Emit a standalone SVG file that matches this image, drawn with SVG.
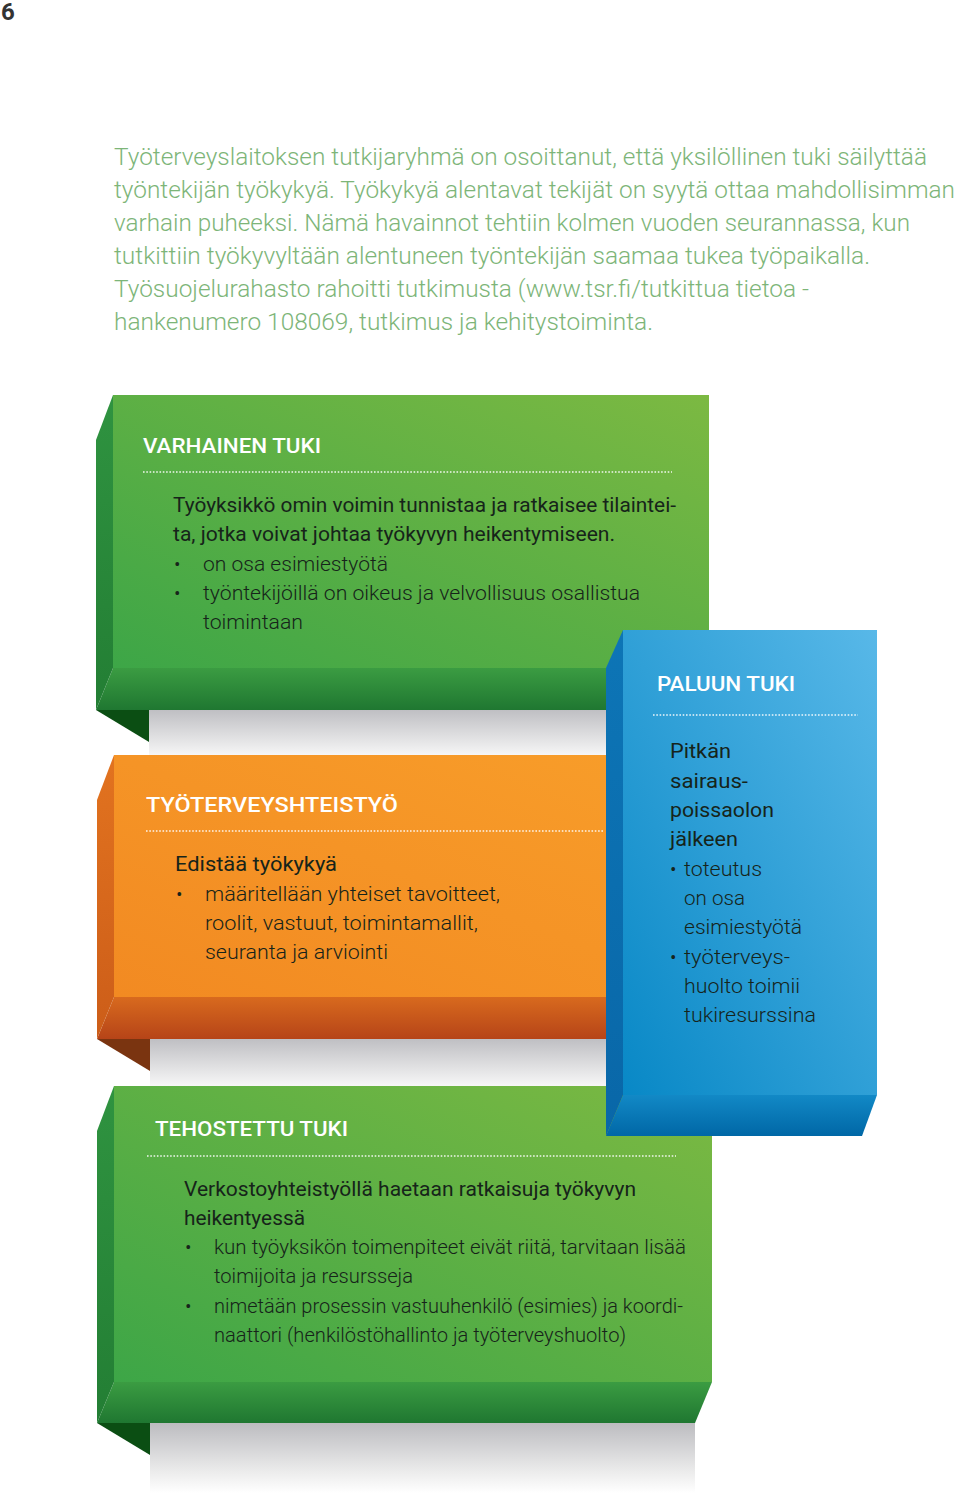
<svg xmlns="http://www.w3.org/2000/svg" width="960" height="1493" viewBox="0 0 960 1493">
<defs>
<style>
.intro{font-family:Roboto,"Liberation Sans",sans-serif;font-weight:300;font-size:23px;fill:#7db578}
.title{font-family:Roboto,"Liberation Sans",sans-serif;font-weight:500;font-size:20px;fill:#ffffff}
.body{font-family:Roboto,"Liberation Sans",sans-serif;font-weight:400;font-size:20px;fill:#16241a}
.light{font-family:Roboto,"Liberation Sans",sans-serif;font-weight:300;font-size:20px;fill:#16241a}
.dots{stroke:#ffffff;stroke-width:1.6;stroke-dasharray:1.6 1.7;opacity:0.9}
</style>
<linearGradient id="gFront" x1="0" y1="1" x2="1" y2="0">
<stop offset="0" stop-color="#3da647"/><stop offset="1" stop-color="#7cb942"/>
</linearGradient>
<linearGradient id="gSide" x1="0" y1="0" x2="0" y2="1">
<stop offset="0" stop-color="#2f9340"/><stop offset="1" stop-color="#237e34"/>
</linearGradient>
<linearGradient id="gBand" x1="0" y1="0" x2="0" y2="1">
<stop offset="0" stop-color="#3b9c42"/><stop offset="1" stop-color="#1f7731"/>
</linearGradient>
<linearGradient id="oFront" x1="0" y1="1" x2="1" y2="0">
<stop offset="0" stop-color="#f28a22"/><stop offset="1" stop-color="#f89e2a"/>
</linearGradient>
<linearGradient id="oSide" x1="0" y1="0" x2="0" y2="1">
<stop offset="0" stop-color="#e2731f"/><stop offset="1" stop-color="#cc5d19"/>
</linearGradient>
<linearGradient id="oBand" x1="0" y1="0" x2="0" y2="1">
<stop offset="0" stop-color="#d86a1e"/><stop offset="1" stop-color="#b64418"/>
</linearGradient>
<linearGradient id="bFront" x1="0" y1="1" x2="1" y2="0">
<stop offset="0" stop-color="#0888c6"/><stop offset="1" stop-color="#58b8e8"/>
</linearGradient>
<linearGradient id="bSide" x1="0" y1="0" x2="0" y2="1">
<stop offset="0" stop-color="#0d75b6"/><stop offset="1" stop-color="#0967a8"/>
</linearGradient>
<linearGradient id="bBand" x1="0" y1="0" x2="0" y2="1">
<stop offset="0" stop-color="#1289c6"/><stop offset="1" stop-color="#0067a6"/>
</linearGradient>
<linearGradient id="shadow" x1="0" y1="0" x2="0" y2="1">
<stop offset="0" stop-color="#bfbfc3"/><stop offset="1" stop-color="#f7f7f7"/>
</linearGradient>
<linearGradient id="shadowLong" x1="0" y1="0" x2="0" y2="1">
<stop offset="0" stop-color="#bcbcc0"/><stop offset="0.7" stop-color="#ececec"/><stop offset="1" stop-color="#ffffff"/>
</linearGradient>
</defs>
<rect x="0" y="0" width="960" height="1493" fill="#ffffff"/>

<g id="page-number">
<text x="1" y="20" style="font-family:Roboto,'Liberation Sans',sans-serif;font-weight:700;font-size:24px;fill:#333333">6</text>
</g>

<g id="intro">
<text class="intro" x="114" y="165" textLength="813" lengthAdjust="spacingAndGlyphs">Työterveyslaitoksen tutkijaryhmä on osoittanut, että yksilöllinen tuki säilyttää</text>
<text class="intro" x="114" y="198" textLength="841" lengthAdjust="spacingAndGlyphs">työntekijän työkykyä. Työkykyä alentavat tekijät on syytä ottaa mahdollisimman</text>
<text class="intro" x="114" y="231" textLength="796" lengthAdjust="spacingAndGlyphs">varhain puheeksi. Nämä havainnot tehtiin kolmen vuoden seurannassa, kun</text>
<text class="intro" x="114" y="264" textLength="756" lengthAdjust="spacingAndGlyphs">tutkittiin työkyvyltään alentuneen työntekijän saamaa tukea työpaikalla.</text>
<text class="intro" x="114" y="297" textLength="695" lengthAdjust="spacingAndGlyphs">Työsuojelurahasto rahoitti tutkimusta (www.tsr.fi/tutkittua tietoa -</text>
<text class="intro" x="114" y="330" textLength="539" lengthAdjust="spacingAndGlyphs">hankenumero 108069, tutkimus ja kehitystoiminta.</text>
</g>

<g id="varhainen-tuki">
<rect x="149" y="710" width="550" height="46" fill="url(#shadow)"/>
<polygon points="96,710 149,710 149,742" fill="#0b4e13"/>
<polygon points="113,668 709,668 692,710 96,710" fill="url(#gBand)"/>
<polygon points="113,395 96,440 96,710 113,668" fill="url(#gSide)"/>
<rect x="113" y="395" width="596" height="273" fill="url(#gFront)"/>
<text class="title" x="143" y="453" textLength="178" lengthAdjust="spacingAndGlyphs">VARHAINEN TUKI</text>
<line class="dots" x1="143" y1="472" x2="672" y2="472"/>
<text class="body" x="173" y="512" textLength="503" lengthAdjust="spacingAndGlyphs">Työyksikkö omin voimin tunnistaa ja ratkaisee tilaintei-</text>
<text class="body" x="173" y="541" textLength="442" lengthAdjust="spacingAndGlyphs">ta, jotka voivat johtaa työkyvyn heikentymiseen.</text>
<text class="light" x="174" y="571">•</text>
<text class="light" x="203" y="571" textLength="185" lengthAdjust="spacingAndGlyphs">on osa esimiestyötä</text>
<text class="light" x="174" y="600">•</text>
<text class="light" x="203" y="600" textLength="437" lengthAdjust="spacingAndGlyphs">työntekijöillä on oikeus ja velvollisuus osallistua</text>
<text class="light" x="203" y="629" textLength="100" lengthAdjust="spacingAndGlyphs">toimintaan</text>
</g>

<g id="tyoterveysyhteistyo">
<rect x="150" y="1039" width="550" height="47" fill="url(#shadow)"/>
<polygon points="97,1039 150,1039 150,1071" fill="#7a3410"/>
<polygon points="114,997 710,997 693,1039 97,1039" fill="url(#oBand)"/>
<polygon points="114,755 97,800 97,1039 114,997" fill="url(#oSide)"/>
<rect x="114" y="755" width="596" height="242" fill="url(#oFront)"/>
<text class="title" x="146" y="812" textLength="252" lengthAdjust="spacingAndGlyphs">TYÖTERVEYSHTEISTYÖ</text>
<line class="dots" x1="146" y1="831" x2="604" y2="831"/>
<text class="body" x="175" y="871" textLength="162" lengthAdjust="spacingAndGlyphs">Edistää työkykyä</text>
<text class="light" x="176" y="901">•</text>
<text class="light" x="205" y="901" textLength="295" lengthAdjust="spacingAndGlyphs">määritellään yhteiset tavoitteet,</text>
<text class="light" x="205" y="930" textLength="273" lengthAdjust="spacingAndGlyphs">roolit, vastuut, toimintamallit,</text>
<text class="light" x="205" y="959" textLength="183" lengthAdjust="spacingAndGlyphs">seuranta ja arviointi</text>
</g>

<g id="tehostettu-tuki">
<polygon points="150,1423 695,1423 695,1493 150,1493" fill="url(#shadowLong)"/>
<polygon points="97,1423 150,1423 150,1455" fill="#0b4e13"/>
<polygon points="114,1382 712,1382 695,1423 97,1423" fill="url(#gBand)"/>
<polygon points="114,1086 97,1131 97,1423 114,1382" fill="url(#gSide)"/>
<rect x="114" y="1086" width="598" height="296" fill="url(#gFront)"/>
<text class="title" x="155" y="1136" textLength="193" lengthAdjust="spacingAndGlyphs">TEHOSTETTU TUKI</text>
<line class="dots" x1="147" y1="1156" x2="676" y2="1156"/>
<text class="body" x="184" y="1196" textLength="452" lengthAdjust="spacingAndGlyphs">Verkostoyhteistyöllä haetaan ratkaisuja työkyvyn</text>
<text class="body" x="184" y="1225" textLength="121" lengthAdjust="spacingAndGlyphs">heikentyessä</text>
<text class="light" x="185" y="1254">•</text>
<text class="light" x="214" y="1254" textLength="472" lengthAdjust="spacingAndGlyphs">kun työyksikön toimenpiteet eivät riitä, tarvitaan lisää</text>
<text class="light" x="214" y="1283" textLength="199" lengthAdjust="spacingAndGlyphs">toimijoita ja resursseja</text>
<text class="light" x="185" y="1313">•</text>
<text class="light" x="214" y="1313" textLength="469" lengthAdjust="spacingAndGlyphs">nimetään prosessin vastuuhenkilö (esimies) ja koordi-</text>
<text class="light" x="214" y="1342" textLength="412" lengthAdjust="spacingAndGlyphs">naattori (henkilöstöhallinto ja työterveyshuolto)</text>
</g>

<g id="paluun-tuki">
<polygon points="623,1095 877,1095 862,1136 606,1136" fill="url(#bBand)"/>
<polygon points="623,630 606,668 606,1136 623,1095" fill="url(#bSide)"/>
<rect x="623" y="630" width="254" height="465" fill="url(#bFront)"/>
<text class="title" x="657" y="691" textLength="138" lengthAdjust="spacingAndGlyphs">PALUUN TUKI</text>
<line class="dots" x1="653" y1="715" x2="858" y2="715"/>
<text class="body" x="670" y="758" textLength="61" lengthAdjust="spacingAndGlyphs">Pitkän</text>
<text class="body" x="670" y="788" textLength="78" lengthAdjust="spacingAndGlyphs">sairaus-</text>
<text class="body" x="670" y="817" textLength="104" lengthAdjust="spacingAndGlyphs">poissaolon</text>
<text class="body" x="670" y="846" textLength="68" lengthAdjust="spacingAndGlyphs">jälkeen</text>
<text class="light" x="670" y="876">•</text>
<text class="light" x="684" y="876" textLength="78" lengthAdjust="spacingAndGlyphs">toteutus</text>
<text class="light" x="684" y="905" textLength="61" lengthAdjust="spacingAndGlyphs">on osa</text>
<text class="light" x="684" y="934" textLength="118" lengthAdjust="spacingAndGlyphs">esimiestyötä</text>
<text class="light" x="670" y="964">•</text>
<text class="light" x="684" y="964" textLength="106" lengthAdjust="spacingAndGlyphs">työterveys-</text>
<text class="light" x="684" y="993" textLength="116" lengthAdjust="spacingAndGlyphs">huolto toimii</text>
<text class="light" x="684" y="1022" textLength="132" lengthAdjust="spacingAndGlyphs">tukiresurssina</text>
</g>
</svg>
